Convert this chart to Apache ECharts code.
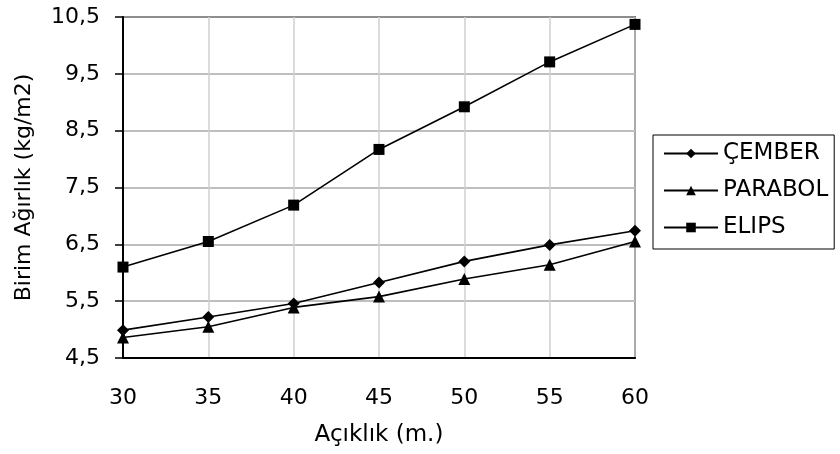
<!DOCTYPE html>
<html>
<head>
<meta charset="utf-8">
<script src="https://cdn.jsdelivr.net/npm/echarts@6/dist/echarts.min.js"></script>
<style>
	html, body { margin: 0; padding: 0; background: #fff; }
	#chart { width: 840px; height: 454px; }
</style>
</head>
<body>
<div id="chart"></div>
<script>
var categories = ['30', '35', '40', '45', '50', '55', '60'];
var cemberValues = [4.99, 5.22, 5.46, 5.83, 6.20, 6.49, 6.74];
var parabolValues = [4.86, 5.05, 5.39, 5.58, 5.89, 6.14, 6.55];
var elipsValues = [6.10, 6.55, 7.19, 8.17, 8.92, 9.71, 10.37];

var fontName = 'DejaVu Sans';

function makeSeries(name, symbol, size, values) {
	return {
		name : name,
		type : 'line',
		data : values,
		symbol : symbol,
		symbolSize : size,
		lineStyle : { color : '#000', width : 1.6 },
		itemStyle : { color : '#000' },
		emphasis : { disabled : true },
		animation : false
	};
}

var myChart = echarts.init(document.getElementById('chart'));
myChart.setOption({
	backgroundColor : '#fff',
	textStyle : { fontFamily : fontName, color : '#000' },
	grid : {
		left : 123,
		right : 205,
		top : 17,
		bottom : 96,
		containLabel : false,
		outerBoundsMode : 'none',
		show : true,
		borderColor : '#000',
		borderWidth : 1.5
	},
	legend : {
		orient : 'vertical',
		left : 653,
		top : 135,
		padding : [ 7, 6, 10, 10 ],
		borderColor : '#000',
		borderWidth : 1,
		itemWidth : 54,
		itemHeight : 12,
		itemGap : 14,
		textStyle : { fontFamily : fontName, fontSize : 23, color : '#000' },
		data : [ 'ÇEMBER', 'PARABOL', 'ELIPS' ]
	},
	xAxis : {
		type : 'category',
		data : categories,
		boundaryGap : false,
		name : 'Açıklık (m.)',
		nameLocation : 'middle',
		nameGap : 66,
		nameTextStyle : { fontFamily : fontName, fontSize : 23, color : '#000' },
		axisLine : { lineStyle : { color : '#000', width : 2 } },
		axisTick : { show : false },
		axisLabel : { fontFamily : fontName, fontSize : 22, color : '#000', margin : 29 },
		splitLine : { show : true, lineStyle : { color : '#cfcfcf', width : 1.5 } }
	},
	yAxis : {
		type : 'value',
		min : 4.5,
		max : 10.5,
		interval : 1,
		name : 'Birim Ağırlık (kg/m2)',
		nameLocation : 'middle',
		nameGap : 88,
		nameTextStyle : { fontFamily : fontName, fontSize : 22, color : '#000' },
		axisLine : { show : true, lineStyle : { color : '#000', width : 2 } },
		axisTick : { show : true, length : 8, lineStyle : { color : '#000', width : 1.5 } },
		axisLabel : {
			fontFamily : fontName,
			fontSize : 22,
			color : '#000',
			margin : 23,
			formatter : function(v) { return v.toFixed(1).replace('.', ','); }
		},
		splitLine : { show : true, lineStyle : { color : '#a8a8a8', width : 1.5 } }
	},
	series : [
		makeSeries('ÇEMBER', 'diamond', 12, cemberValues),
		makeSeries('PARABOL', 'triangle', 12, parabolValues),
		makeSeries('ELIPS', 'rect', 11, elipsValues)
	]
});
</script>
</body>
</html>
